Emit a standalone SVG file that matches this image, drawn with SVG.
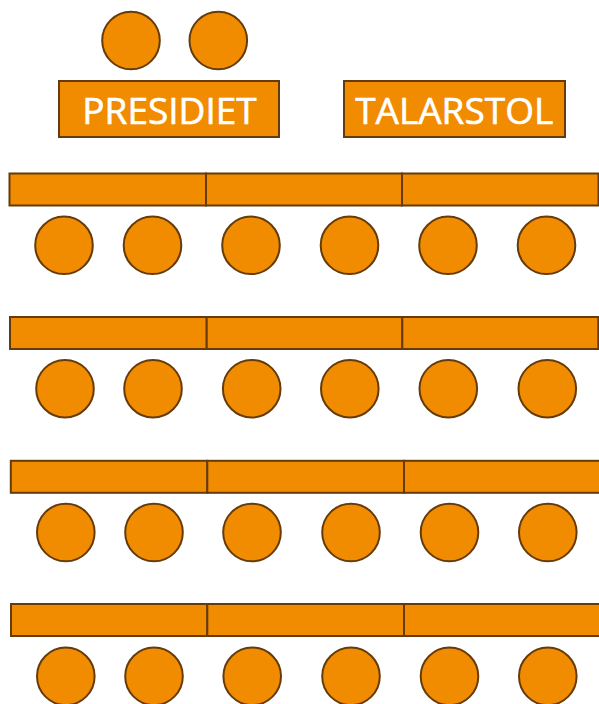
<svg xmlns="http://www.w3.org/2000/svg" width="599" height="704" viewBox="0 0 599 704">
<style>
.s{fill:#f18c00;stroke:#653b0b;stroke-width:2}
.t{fill:#ffffff;stroke:#ffffff;stroke-width:0.6;font-family:"Open Sans","Noto Sans",sans-serif;font-size:37px;text-anchor:middle}
</style>
<rect width="599" height="704" fill="#ffffff"/>
<g id="presidium-chairs">
<circle class="s" cx="131" cy="40.5" r="28.8"/>
<circle class="s" cx="218.3" cy="40.5" r="28.8"/>
</g>
<g id="presidiet">
<rect class="s" x="59" y="81" width="220" height="56"/>
<text class="t" x="169.5" y="124">PRESIDIET</text>
</g>
<g id="talarstol">
<rect class="s" x="344" y="81" width="221" height="56"/>
<text class="t" x="454.2" y="124">TALARSTOL</text>
</g>
<g id="row1">
<rect class="s" x="9.5" y="173.5" width="196.5" height="32"/>
<rect class="s" x="206" y="173.5" width="196" height="32"/>
<rect class="s" x="402" y="173.5" width="196.5" height="32"/>
<circle class="s" cx="64" cy="245.3" r="28.8"/>
<circle class="s" cx="152.5" cy="245.3" r="28.8"/>
<circle class="s" cx="251" cy="245.3" r="28.8"/>
<circle class="s" cx="349.5" cy="245.3" r="28.8"/>
<circle class="s" cx="448" cy="245.3" r="28.8"/>
<circle class="s" cx="546.5" cy="245.3" r="28.8"/>
</g>
<g id="row2">
<rect class="s" x="10" y="317" width="196.7" height="32"/>
<rect class="s" x="206.7" y="317" width="195.6" height="32"/>
<rect class="s" x="402.3" y="317" width="196" height="32"/>
<circle class="s" cx="65" cy="388.7" r="28.8"/>
<circle class="s" cx="153" cy="388.7" r="28.8"/>
<circle class="s" cx="251.7" cy="388.7" r="28.8"/>
<circle class="s" cx="349.8" cy="388.7" r="28.8"/>
<circle class="s" cx="448.3" cy="388.7" r="28.8"/>
<circle class="s" cx="547.3" cy="388.7" r="28.8"/>
</g>
<g id="row3">
<rect class="s" x="10.8" y="460.8" width="196.5" height="32"/>
<rect class="s" x="207.3" y="460.8" width="196.7" height="32"/>
<rect class="s" x="404" y="460.8" width="197" height="32"/>
<circle class="s" cx="65.8" cy="532.5" r="28.8"/>
<circle class="s" cx="154" cy="532.5" r="28.8"/>
<circle class="s" cx="252" cy="532.5" r="28.8"/>
<circle class="s" cx="351" cy="532.5" r="28.8"/>
<circle class="s" cx="449.5" cy="532.5" r="28.8"/>
<circle class="s" cx="547.8" cy="532.5" r="28.8"/>
</g>
<g id="row4">
<rect class="s" x="11" y="604" width="196.3" height="32"/>
<rect class="s" x="207.3" y="604" width="196.7" height="32"/>
<rect class="s" x="404" y="604" width="197" height="32"/>
<circle class="s" cx="65.8" cy="676.3" r="28.8"/>
<circle class="s" cx="154" cy="676.3" r="28.8"/>
<circle class="s" cx="252.2" cy="676.3" r="28.8"/>
<circle class="s" cx="351" cy="676.3" r="28.8"/>
<circle class="s" cx="449.5" cy="676.3" r="28.8"/>
<circle class="s" cx="547.8" cy="676.3" r="28.8"/>
</g>
</svg>
